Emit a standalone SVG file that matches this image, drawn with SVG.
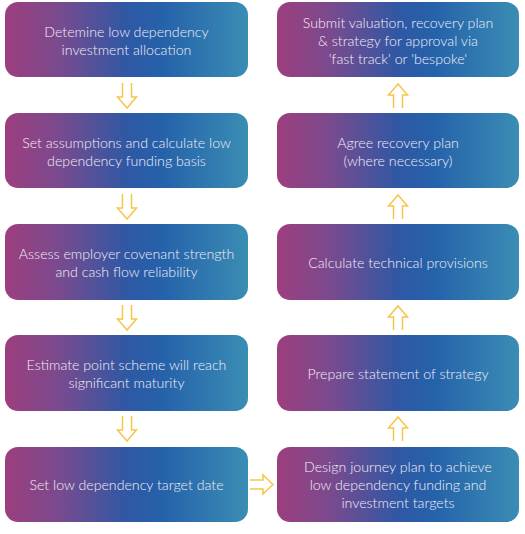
<svg xmlns="http://www.w3.org/2000/svg" width="525" height="534" viewBox="0 0 525 534">
<defs>
<linearGradient id="g" x1="0" y1="0" x2="1" y2="0">
<stop offset="0" stop-color="#9d3e7e"/>
<stop offset="0.22" stop-color="#7a4a8e"/>
<stop offset="0.5" stop-color="#2f58a4"/>
<stop offset="0.65" stop-color="#2562aa"/>
<stop offset="1" stop-color="#3a8db4"/>
</linearGradient>
<style>
.box{fill:url(#g);}
.t{font-family:Lato,"Open Sans","Liberation Sans",sans-serif;font-size:14.2px;font-weight:300;fill:#f5eef6;text-anchor:middle;}
.arr{fill:#fff;stroke:#f6c64a;stroke-width:1.5;stroke-linejoin:miter;}
</style>
</defs>
<g id="n1"><rect class="box" x="5" y="2" width="243" height="75" rx="13"/>
<text class="t" x="126.5" y="37">Detemine low dependency</text><text class="t" x="126.5" y="55">investment allocation</text></g>
<g id="n2"><rect class="box" x="5" y="113" width="243" height="75" rx="13"/>
<text class="t" x="126.5" y="148">Set assumptions and calculate low</text><text class="t" x="126.5" y="166">dependency funding basis</text></g>
<g id="n3"><rect class="box" x="5" y="224" width="243" height="76" rx="13"/>
<text class="t" x="126.5" y="259">Assess employer covenant strength</text><text class="t" x="126.5" y="277">and cash flow reliability</text></g>
<g id="n4"><rect class="box" x="5" y="335" width="243" height="76" rx="13"/>
<text class="t" x="126.5" y="370">Estimate point scheme will reach</text><text class="t" x="126.5" y="388">significant maturity</text></g>
<g id="n5"><rect class="box" x="5" y="447" width="243" height="75" rx="13"/>
<text class="t" x="126.5" y="490">Set low dependency target date</text></g>
<g id="n6"><rect class="box" x="277" y="447" width="242" height="75" rx="13"/>
<text class="t" x="398" y="472">Design journey plan to achieve</text><text class="t" x="398" y="490">low dependency funding and</text><text class="t" x="398" y="508">investment targets</text></g>
<g id="n7"><rect class="box" x="277" y="335" width="242" height="76" rx="13"/>
<text class="t" x="398" y="379">Prepare statement of strategy</text></g>
<g id="n8"><rect class="box" x="277" y="224" width="242" height="76" rx="13"/>
<text class="t" x="398" y="268">Calculate technical provisions</text></g>
<g id="n9"><rect class="box" x="277" y="113" width="242" height="75" rx="13"/>
<text class="t" x="398" y="148">Agree recovery plan</text><text class="t" x="398" y="166">(where necessary)</text></g>
<g id="n10"><rect class="box" x="277" y="2" width="242" height="75" rx="13"/>
<text class="t" x="398" y="28">Submit valuation, recovery plan</text><text class="t" x="398" y="46">&amp; strategy for approval via</text><text class="t" x="398" y="64">'fast track' or 'bespoke'</text></g>
<g id="connectors">
<path class="arr" d="M122.5,83 V97 H117.5 L127,108 L136.5,97 H131.5 V83"/>
<path class="arr" d="M122.5,194 V208 H117.5 L127,219 L136.5,208 H131.5 V194"/>
<path class="arr" d="M122.5,305 V319 H117.5 L127,330 L136.5,319 H131.5 V305"/>
<path class="arr" d="M122.5,416 V430 H117.5 L127,441 L136.5,430 H131.5 V416"/>
<path class="arr" d="M250,480 H263 V475 L273,484.5 L263,494 V489 H250"/>
<path class="arr" d="M393.5,441 V428 H388.5 L398,417 L407.5,428 H402.5 V441"/>
<path class="arr" d="M393.5,330 V317 H388.5 L398,306 L407.5,317 H402.5 V330"/>
<path class="arr" d="M393.5,219 V206 H388.5 L398,195 L407.5,206 H402.5 V219"/>
<path class="arr" d="M393.5,108 V95 H388.5 L398,84 L407.5,95 H402.5 V108"/>
</g>
</svg>
